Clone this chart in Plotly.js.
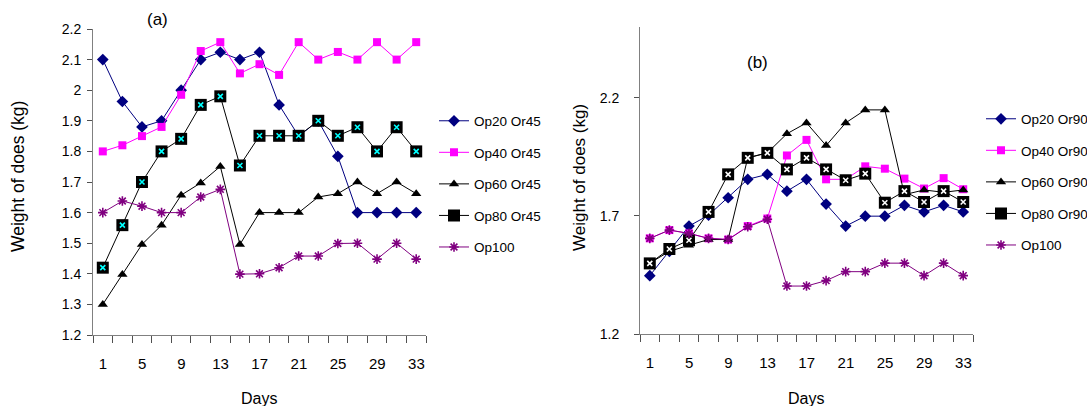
<!DOCTYPE html>
<html>
<head>
<meta charset="utf-8">
<script src="https://cdn.plot.ly/plotly-3.0.1.min.js"></script>
<style>html,body{margin:0;padding:0;background:#fff;}#chart{width:1087px;height:406px;}</style>
</head>
<body>
<div id="chart"></div>
<script>
// ---- data ----
const days = [1,3,5,7,9,11,13,15,17,19,21,23,25,27,29,31,33];

// panel (a): Or45
const op20_or45 = [2.10,1.963,1.88,1.90,2.00,2.10,2.124,2.10,2.124,1.952,1.85,1.90,1.784,1.60,1.60,1.60,1.60];
const op40_or45 = [1.80,1.82,1.85,1.88,1.985,2.128,2.157,2.055,2.085,2.05,2.157,2.10,2.125,2.10,2.157,2.10,2.157];
const op60_or45 = [1.30,1.398,1.496,1.559,1.657,1.697,1.751,1.496,1.60,1.60,1.60,1.651,1.662,1.70,1.662,1.70,1.662];
const op80_or45 = [1.42,1.559,1.70,1.80,1.841,1.952,1.98,1.754,1.851,1.851,1.851,1.90,1.851,1.879,1.80,1.879,1.80];
const op100_a   = [1.60,1.638,1.621,1.60,1.60,1.651,1.676,1.399,1.40,1.42,1.458,1.458,1.499,1.50,1.448,1.50,1.448];

// panel (b): Or90
const op20_or90 = [1.447,1.55,1.657,1.703,1.777,1.855,1.876,1.805,1.855,1.75,1.657,1.699,1.699,1.745,1.717,1.745,1.717];
const op40_or90 = [1.605,1.64,1.626,1.605,1.60,1.657,1.689,1.956,2.022,1.855,1.855,1.91,1.90,1.858,1.816,1.86,1.813];
const op60_or90 = [1.50,1.55,1.576,1.60,1.60,1.946,1.967,2.048,2.094,1.998,2.094,2.149,2.149,1.79,1.81,1.80,1.81];
const op80_or90 = [1.499,1.56,1.597,1.717,1.876,1.946,1.967,1.897,1.946,1.897,1.851,1.879,1.756,1.805,1.759,1.805,1.759];
const op100_b   = [1.605,1.64,1.626,1.605,1.60,1.654,1.686,1.403,1.403,1.426,1.464,1.464,1.50,1.50,1.447,1.50,1.447];

const namesA = ["Op20 Or45","Op40 Or45","Op60 Or45","Op80 Or45","Op100"];
const namesB = ["Op20 Or90","Op40 Or90","Op60 Or90","Op80 Or90","Op100"];
const yTicksA = [1.2,1.3,1.4,1.5,1.6,1.7,1.8,1.9,2.0,2.1,2.2];
const yTicksB = [1.2,1.7,2.2];
const xLabelDays = days.filter((d,i)=>i%2===0);

// ---- build ----
const W = 1087, H = 406;
const px = v => v / W, py = v => 1 - v / H;

function panel(xa, ya, leg, vals, names, xColor) {
  const styles = [
    {line:'#000080', marker:{symbol:'diamond', size:9, color:'#000080'}},
    {line:'#FF00FF', marker:{symbol:'square', size:8, color:'#FF00FF'}},
    {line:'#000000', marker:{symbol:'triangle-up', size:9, color:'#000000'}},
    {line:'#000000', marker:{symbol:'square', size:12, color:'#000000'}},
    {line:'#800080', marker:{symbol:'asterisk-open', size:8, color:'#800080', line:{color:'#800080', width:1.6}}}
  ];
  const out = [];
  vals.forEach((v, i) => {
    const g = leg + '_' + i;
    out.push({
      type:'scatter', mode:'lines+markers', x: days, y: v, name: names[i],
      xaxis: xa, yaxis: ya, legend: leg, legendgroup: g,
      line:{color: styles[i].line, width:1}, marker: styles[i].marker
    });
    if (i === 3) {
      out.push({
        type:'scatter', mode:'markers', x: days, y: v, showlegend:false,
        xaxis: xa, yaxis: ya, legend: leg, legendgroup: g, hoverinfo:'skip',
        marker:{symbol:'x-thin-open', size:5, color:xColor, line:{color:xColor, width:1.6}}
      });
    }
  });
  return out;
}

const traces = []
  .concat(panel('x','y','legend',[op20_or45,op40_or45,op60_or45,op80_or45,op100_a], namesA, '#00FFFF'))
  .concat(panel('x2','y2','legend2',[op20_or90,op40_or90,op60_or90,op80_or90,op100_b], namesB, '#FFFFFF'));

// category boundaries: tick marks sit between the day categories, labels on every second day
const step = days[1] - days[0];
const bounds = days.map(d => d - step / 2).concat([days[days.length-1] + step / 2]);
const boundText = bounds.map(b => xLabelDays.indexOf(b + step / 2) >= 0 ? String(b + step / 2) : '');
const xRange = [bounds[0], bounds[bounds.length-1]];
const W_PLOT = 333;
const halfStepPx = Math.round(W_PLOT / (xRange[1] - xRange[0]) * step / 2);
const xTickFont = {family:'Arial, "Liberation Sans", sans-serif', size:15, color:'#000'};
const yTickFont = {family:'Arial, "Liberation Sans", sans-serif', size:14, color:'#000'};
const axCol = '#808080';
const tkCol = '#505050';

function xAxis(dom) {
  return {
    domain: dom, range: xRange, showline:true, linecolor:axCol, linewidth:1,
    showgrid:false, zeroline:false, tickmode:'array', tickvals: bounds, ticktext: boundText,
    ticks:'outside', ticklen:7, tickcolor:tkCol, tickwidth:1, tickfont: xTickFont,
    ticklabelshift: halfStepPx, ticklabelstandoff: 8
  };
}
function yAxis(dom, range, tv, standoff) {
  return {
    domain: dom, range: range, showline:true, linecolor:axCol, linewidth:1, showgrid:false, zeroline:false,
    tickmode:'array', tickvals: tv, ticktext: tv.map(v => String(+v.toFixed(1))),
    ticks:'outside', ticklen:5, tickcolor:tkCol, tickfont: yTickFont, ticklabelstandoff: standoff
  };
}

const legFont = {family:'Arial, "Liberation Sans", sans-serif', size:13.5, color:'#000'};
const ann = (text, x, y, size, angle) => ({text, x:px(x), y:py(y), xref:'paper', yref:'paper', xanchor:'center', yanchor:'middle',
  textangle: angle || 0, showarrow:false, font:{family:'Arial, "Liberation Sans", sans-serif', size, color:'#000'}});
const layout = {
  width:W, height:H, margin:{l:0,r:0,t:0,b:0,autoexpand:false}, paper_bgcolor:'#fff', plot_bgcolor:'#fff',
  showlegend:true,
  xaxis: xAxis([px(93), px(426)]),
  yaxis: yAxis([py(335), py(29)], [1.2, 2.2], yTicksA, 3),
  xaxis2: Object.assign(xAxis([px(640), px(973)]), {anchor:'y2'}),
  yaxis2: Object.assign(yAxis([py(334), py(27)], [1.2, 2.5], yTicksB, 12), {anchor:'x2'}),
  legend: {x: px(434), xanchor:'left', y: py(105.5), yanchor:'top', font: legFont, bgcolor:'rgba(0,0,0,0)',
           traceorder:'grouped', tracegroupgap:11, itemwidth:30},
  legend2: {x: px(981), xanchor:'left', y: py(103.5), yanchor:'top', font: legFont, bgcolor:'rgba(0,0,0,0)',
           traceorder:'grouped', tracegroupgap:11, itemwidth:30},
  annotations: [
    ann('(a)', 157, 19, 17),
    ann('(b)', 757, 62, 17),
    ann('Weight of does (kg)', 18, 177, 17.5, -90),
    ann('Weight of does (kg)', 579, 178, 17, -90),
    ann('Days', 259, 398, 16),
    ann('Days', 806, 398, 16)
  ]
};

Plotly.newPlot('chart', traces, layout, {displayModeBar:false, staticPlot:true});
</script>
</body>
</html>
